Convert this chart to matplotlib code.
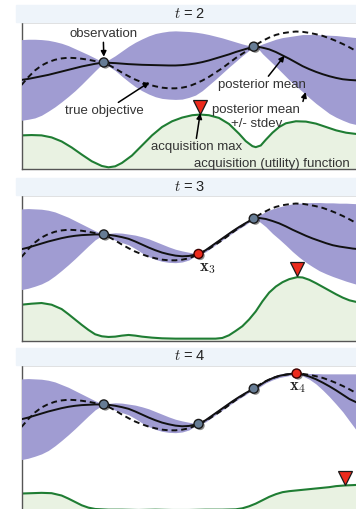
import matplotlib.pyplot as plt
import matplotlib.patheffects as pe
from matplotlib.patches import Rectangle
from matplotlib.transforms import offset_copy
import numpy as np

plt.rcParams['font.family'] = ['Liberation Sans', 'DejaVu Sans']
plt.rcParams['mathtext.fontset'] = 'cm'

# true objective, the same at every step
x_true = [0, 2, 4, 6, 8, 10, 12, 14, 16, 18, 20, 22, 24, 26, 28, 30, 32, 34, 36,
          38, 40, 42, 44, 46, 48, 50, 52, 54, 56, 58, 60, 62, 64, 66, 68, 70, 72,
          74, 76, 78, 80, 82, 84, 86, 88, 90, 92, 94, 96, 98, 100]
y_true = [25.0, 27.3, 29.3, 30.8, 31.8, 32.5, 32.9, 33.1, 33.0, 32.8, 32.5, 32.1,
          31.7, 31.0, 29.9, 28.7, 27.6, 26.6, 25.8, 25.1, 24.6, 24.2, 24.0, 24.0,
          24.2, 24.6, 25.4, 26.3, 27.4, 28.7, 30.0, 31.5, 33.0, 34.3, 35.6, 36.9,
          38.1, 39.1, 39.9, 40.4, 40.7, 40.9, 40.8, 40.5, 40.1, 39.6, 38.9, 38.1,
          37.2, 36.2, 35.1]

# t = 2
x_post2 = [0, 2, 4, 6, 8, 10, 12, 14, 16, 18, 20, 22, 24.6, 26, 28, 30, 32, 34, 36,
           38, 40, 42, 44, 46, 48, 50, 52, 54, 56, 58, 60, 62, 64, 66, 68, 69.4, 71,
           72, 74, 76, 78, 80, 82, 84, 86, 88, 90, 92, 94, 96, 98, 101]
mean2 = [26.5, 26.8, 27.2, 27.6, 28.0, 28.5, 29.0, 29.5, 30.0, 30.5, 30.9, 31.3,
         31.7, 31.6, 31.5, 31.35, 31.2, 31.1, 31.0, 30.95, 30.9, 30.85, 30.8, 30.8,
         30.9, 31.1, 31.4, 31.8, 32.3, 32.9, 33.5, 34.1, 34.8, 35.4, 36.0, 36.4,
         36.3, 36.1, 35.6, 34.8, 33.8, 32.8, 31.7, 30.6, 29.7, 28.9, 28.2, 27.6,
         27.1, 26.7, 26.5, 26.3]
hi2 = [38.5, 38.6, 38.6, 38.5, 38.3, 37.9, 37.4, 36.7, 35.8, 34.9, 34.0, 33.0,
       31.7, 32.5, 33.7, 35.1, 36.5, 37.7, 38.7, 39.6, 40.3, 40.7, 41.0, 41.1,
       41.0, 40.9, 40.7, 40.4, 40.0, 39.5, 39.0, 38.4, 37.8, 37.2, 36.7, 36.4,
       36.8, 37.2, 37.9, 38.6, 39.1, 39.4, 39.7, 40.0, 40.0, 40.0, 39.9, 39.8,
       39.7, 39.5, 39.3, 39.0]
lo2 = [14.5, 14.8, 15.2, 16.0, 17.2, 18.5, 20.0, 21.6, 23.3, 25.2, 27.2, 29.2,
       31.7, 30.6, 29.3, 27.6, 26.0, 24.5, 23.3, 22.3, 21.5, 21.0, 20.8, 20.7,
       20.8, 21.3, 22.0, 23.3, 25.0, 26.7, 28.5, 30.3, 32.0, 33.7, 35.3, 36.4,
       35.5, 34.3, 32.4, 30.5, 28.5, 26.5, 24.7, 23.0, 21.2, 19.5, 18.0, 16.5,
       15.4, 14.5, 13.7, 13.0]
x_acq2 = [0, 3, 6, 9, 12, 15, 18, 21, 24, 26, 28, 30, 33, 36, 39, 42, 45, 48, 51,
          53.4, 56, 59, 62, 65, 67, 69, 70, 71.5, 73, 75, 77, 79, 82, 85, 88, 91,
          94, 97, 101]
acq2 = [10.0, 10.1, 10.0, 9.4, 8.2, 6.4, 4.3, 2.3, 0.9, 0.5, 0.8, 1.8, 4.0, 7.0,
        10.0, 12.5, 14.2, 15.3, 16.0, 16.2, 16.0, 15.2, 13.4, 10.5, 8.3, 6.8, 6.5,
        7.0, 8.7, 10.8, 12.5, 13.6, 14.2, 14.1, 13.5, 12.5, 11.5, 10.8, 10.3]
obs_x2 = [24.6, 69.4]
obs_y2 = [31.7, 36.4]
acqmax2 = (53.4, 16.2)

# t = 3
x_post3 = [0, 2, 4, 6, 8, 10, 12, 14, 16, 18, 20, 22, 24.6, 26, 28, 30, 32, 34, 36,
           38, 40, 42, 44, 46, 48, 50, 52.9, 55, 57, 59, 61, 63, 65, 67, 69.4, 71,
           73, 75, 77, 79, 81, 83, 85, 87, 89, 91, 93, 95, 97, 99, 101]
mean3 = [27.3, 27.8, 28.4, 29.0, 29.6, 30.1, 30.6, 31.0, 31.3, 31.5, 31.6, 31.7,
         31.7, 31.6, 31.3, 30.9, 30.4, 29.6, 28.7, 27.8, 27.0, 26.3, 25.8, 25.4,
         25.2, 25.3, 25.9, 27.0, 28.4, 29.8, 31.2, 32.6, 33.9, 35.1, 36.4, 36.6,
         36.3, 35.7, 35.0, 34.1, 33.1, 32.2, 31.3, 30.5, 29.8, 29.1, 28.5, 28.1,
         27.8, 27.5, 27.3]
hi3 = [39.3, 39.4, 39.3, 39.2, 38.9, 38.4, 37.6, 36.8, 35.8, 34.8, 33.8, 32.8,
       31.7, 32.0, 32.2, 32.1, 31.8, 31.5, 31.0, 30.4, 29.6, 28.8, 28.0, 27.3,
       26.8, 26.4, 25.9, 27.5, 28.9, 30.3, 31.7, 33.1, 34.4, 35.5, 36.4, 37.4,
       38.5, 39.3, 39.9, 40.4, 40.8, 41.0, 41.1, 41.2, 41.2, 41.1, 41.1, 41.0,
       41.0, 40.9, 40.8]
lo3 = [15.3, 15.7, 16.3, 17.0, 18.0, 19.4, 21.0, 22.7, 24.5, 26.4, 28.3, 30.1,
       31.7, 30.9, 30.0, 29.3, 28.6, 27.5, 26.2, 25.1, 24.3, 23.7, 23.4, 23.3,
       23.5, 24.1, 25.9, 26.5, 27.9, 29.3, 30.7, 32.1, 33.4, 34.6, 36.4, 35.6,
       34.0, 32.0, 30.3, 28.5, 26.6, 24.9, 23.4, 22.1, 20.9, 20.0, 19.2, 18.5,
       17.8, 17.2, 16.6]
x_acq3 = [0, 3, 6, 9, 12, 14, 16, 18, 20, 22, 24, 26, 28, 30, 32, 34, 36, 39, 42,
          46, 50, 54, 58, 60, 62, 64, 66, 68, 70, 72, 74, 76, 78, 80, 82.4, 84, 86,
          88, 90, 92, 94, 96, 98, 101]
acq3 = [10.8, 11.1, 11.3, 10.8, 9.5, 8.0, 6.4, 4.8, 3.3, 2.0, 1.4, 1.2, 1.3, 1.6,
        1.8, 1.6, 1.3, 1.0, 0.8, 0.7, 0.7, 0.7, 0.7, 0.9, 1.7, 3.0, 4.4, 6.4, 8.8,
        11.8, 14.4, 16.2, 17.5, 18.4, 19.0, 18.9, 18.2, 17.2, 16.1, 15.0, 13.9,
        12.9, 12.1, 11.4]
obs_x3 = [24.6, 69.4]
obs_y3 = [31.7, 36.4]
new_x3 = (52.9, 25.9)
acqmax3 = (82.4, 19.0)

# t = 4
x_post4 = [0, 2, 4, 6, 8, 10, 12, 14, 16, 18, 20, 22, 24.6, 26, 28, 30, 32, 34, 36,
           38, 40, 42, 44, 46, 48, 50, 52.9, 55, 57, 59, 61, 63, 65, 67, 69.4, 71,
           73, 75, 77, 79, 80.5, 82.2, 84, 86, 88, 90, 92, 94, 96, 98, 101]
mean4 = [27.3, 27.8, 28.4, 29.0, 29.6, 30.1, 30.6, 31.0, 31.3, 31.5, 31.6, 31.7,
         31.7, 31.6, 31.3, 30.9, 30.4, 29.6, 28.7, 27.8, 27.0, 26.3, 25.8, 25.4,
         25.2, 25.3, 25.9, 27.0, 28.4, 29.8, 31.2, 32.6, 33.9, 35.1, 36.4, 37.3,
         38.6, 39.5, 40.2, 40.6, 40.8, 40.9, 40.6, 40.0, 39.2, 38.2, 37.1, 35.9,
         34.6, 33.3, 31.9]
hi4 = [39.3, 39.4, 39.3, 39.2, 38.9, 38.4, 37.6, 36.8, 35.8, 34.8, 33.8, 32.8,
       31.7, 32.0, 32.2, 32.1, 31.8, 31.5, 31.0, 30.4, 29.6, 28.8, 28.0, 27.3,
       26.8, 26.4, 25.9, 27.5, 28.9, 30.3, 31.7, 33.1, 34.4, 35.5, 36.4, 37.8,
       39.1, 40.0, 40.7, 41.1, 41.2, 40.9, 40.9, 40.9, 40.9, 40.8, 40.8, 40.8,
       40.8, 40.8, 40.8]
lo4 = [15.3, 15.7, 16.3, 17.0, 18.0, 19.4, 21.0, 22.7, 24.5, 26.4, 28.3, 30.1,
       31.7, 30.9, 30.0, 29.3, 28.6, 27.5, 26.2, 25.1, 24.3, 23.7, 23.4, 23.3,
       23.5, 24.1, 25.9, 26.5, 27.9, 29.3, 30.7, 32.1, 33.4, 34.6, 36.4, 36.8,
       38.1, 39.0, 39.7, 40.1, 40.4, 40.9, 40.2, 39.2, 37.8, 36.0, 34.0, 31.8,
       29.5, 26.8, 22.8]
x_acq4 = [0, 3, 6, 9, 12, 14, 16, 18, 20, 22, 26, 30, 35, 40, 45, 50, 55, 60, 64,
          66, 68, 70, 72, 74, 76, 78, 80, 82, 84, 86, 88, 90, 92, 94, 96.6, 99, 101]
acq4 = [5.2, 5.3, 5.4, 5.3, 4.6, 3.7, 2.7, 1.7, 1.0, 0.6, 0.4, 0.4, 0.3, 0.4, 0.3,
        0.3, 0.4, 0.4, 0.5, 0.8, 1.4, 2.2, 3.2, 4.2, 5.0, 5.6, 5.9, 6.1, 6.3, 6.5,
        6.7, 6.9, 7.1, 7.4, 7.6, 7.7, 7.8]
obs_x4 = [24.6, 52.9, 69.4]
obs_y4 = [31.7, 25.9, 36.4]
new_x4 = (82.2, 40.9)
acqmax4 = (96.6, 7.6)

steps = [2, 3, 4]

PURPLE = '#a09cd2'
GREEN = '#1f7d33'
GREEN_FILL = '#e9f2e2'
BAR = '#eef4fa'
OBS = '#667c95'
RED = '#ec2a1c'

W, H = 356, 509
fig = plt.figure(figsize=(W / 100, H / 100), dpi=100)

# panel boxes in pixels: (top of title bar, top of axes, bottom of axes)
boxes = [(5, 22, 169), (178, 195, 341), (348, 365, 511)]


def draw_panel(ax, xp, mean, hi, lo, xa, acq, obs_x, obs_y, new_pt, amax, ytop):
    ax.fill_between(xa, 0, acq, color=GREEN_FILL, lw=0, zorder=1)
    ax.plot(xa, acq, color=GREEN, lw=1.5, zorder=2)
    ax.fill_between(xp, lo, hi, color=PURPLE, lw=0, zorder=3)
    ax.plot(x_true, y_true, color='#111111', lw=1.4, dashes=(3, 2), zorder=4)
    ax.plot(xp, mean, color='#111111', lw=1.4, zorder=5)
    shadow = [pe.SimplePatchShadow(offset=(1.2, -1.2), shadow_rgbFace='k', alpha=0.45),
              pe.Normal()]
    ax.plot(obs_x, obs_y, 'o', ms=6.5, mfc=OBS, mec='#1a1a1a', mew=1.0, zorder=6,
            path_effects=shadow)
    if new_pt is not None:
        ax.plot([new_pt[0]], [new_pt[1]], 'o', ms=6.5, mfc=RED, mec='#3a0000',
                mew=1.0, zorder=7, path_effects=shadow)
    tri = offset_copy(ax.transData, fig=fig, x=0, y=5.5, units='points')
    ax.plot([amax[0]], [amax[1]], 'v', ms=10, mfc=RED, mec='#1a1a1a', mew=0.9,
            transform=tri, zorder=8)
    ax.set_xlim(0, 101)
    ax.set_ylim(0, ytop)
    ax.set_xticks([])
    ax.set_yticks([])
    for s in ax.spines.values():
        s.set_color('#555555')
        s.set_linewidth(1.0)


panels = [
    (x_post2, mean2, hi2, lo2, x_acq2, acq2, obs_x2, obs_y2, None, acqmax2),
    (x_post3, mean3, hi3, lo3, x_acq3, acq3, obs_x3, obs_y3, new_x3, acqmax3),
    (x_post4, mean4, hi4, lo4, x_acq4, acq4, obs_x4, obs_y4, new_x4, acqmax4),
]

axes = []
for (bar_top, ax_top, ax_bot), step, p in zip(boxes, steps, panels):
    fig.patches.append(Rectangle((16 / W, 1 - ax_top / H), 1, (ax_top - bar_top) / H,
                                 transform=fig.transFigure, color=BAR, zorder=0))
    fig.text(190 / W, 1 - (bar_top + ax_top) / 2 / H, r'$t$ = %d' % step,
             ha='center', va='center', fontsize=10.5, color='#222222')
    ax = fig.add_axes([21.5 / W, 1 - ax_bot / H, 338 / W, (ax_bot - ax_top) / H])
    draw_panel(ax, *p, ytop=(ax_bot - ax_top) * 0.2975)
    axes.append(ax)

ax1, ax2, ax3 = axes
arrow = dict(arrowstyle='-|>', color='black', lw=1.1, mutation_scale=8,
             shrinkA=0, shrinkB=0)
tc = '#333333'
fs = 9.5
ax1.annotate('observation', xy=(24.6, 33.4), xytext=(24.4, 40.3), ha='center',
             va='center', fontsize=fs, color=tc, arrowprops=arrow, zorder=10)
ax1.annotate('true objective', xy=(38.2, 25.8), xytext=(24.9, 17.2), ha='center',
             va='center', fontsize=fs, color=tc, arrowprops=arrow, zorder=10)
ax1.annotate('posterior mean', xy=(78.6, 33.7), xytext=(71.7, 25.0), ha='center',
             va='center', fontsize=fs, color=tc, arrowprops=arrow, zorder=10)
ax1.annotate('posterior mean\n+/- stdev', xy=(84.9, 22.9), xytext=(70.2, 15.5),
             ha='center', va='center', fontsize=fs, color=tc, linespacing=1.15,
             arrowprops=dict(arrow, relpos=(1.0, 0.75)), zorder=10)
ax1.annotate('acquisition max', xy=(53.4, 16.6), xytext=(52.4, 6.5), ha='center',
             va='center', fontsize=fs, color=tc, arrowprops=dict(arrow, relpos=(0.49, 1.0)),
             zorder=10)
ax1.text(74.9, 1.5, 'acquisition (utility) function', ha='center', va='center',
         fontsize=fs, color=tc, zorder=10)

ax2.text(55.6, 21.5, r'$\mathbf{x}_3$', ha='center', va='center', fontsize=12,
         color='#222222', zorder=10)
ax3.text(82.6, 36.6, r'$\mathbf{x}_4$', ha='center', va='center', fontsize=12,
         color='#222222', zorder=10)

fig.savefig('out.png', dpi=100)
